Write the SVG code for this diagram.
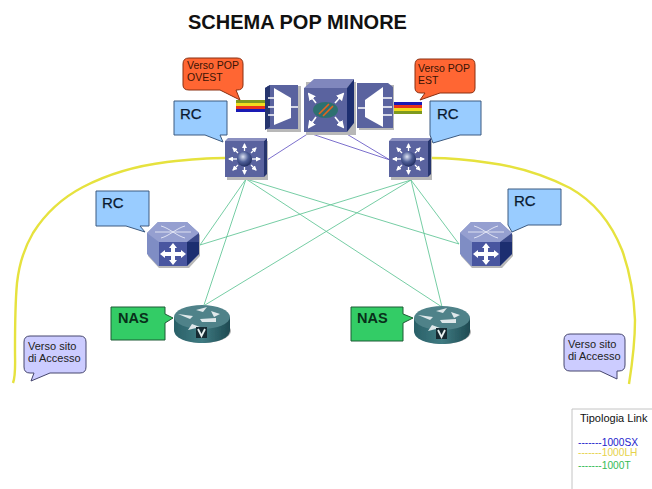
<svg xmlns="http://www.w3.org/2000/svg" width="652" height="489" viewBox="0 0 652 489">
<style>
text{font-family:"Liberation Sans",Arial,sans-serif}
.title{font-size:20px;font-weight:700;fill:#111}
.rc{font-size:15px;fill:#0a1a30;stroke:#0a1a30;stroke-width:.25}
.nas{font-size:14.5px;font-weight:700;fill:#08301a}
.small{font-size:11px;fill:#222}
.red{font-size:10.5px;fill:#3a1405}
.call{stroke-linejoin:round}
.blue{fill:#99ccff;stroke:#3c5a80;stroke-width:1}
.green{fill:#33cc66;stroke:#1c5a34;stroke-width:1}
.orange{fill:#ff6633;stroke:#8a2f10;stroke-width:1}
.lilac{fill:#ccccff;stroke:#46466e;stroke-width:1}
.g{fill:none;stroke:#66c79a;stroke-width:.9}
.p{fill:none;stroke:#5a4bc0;stroke-width:.8}
.y{fill:none;stroke:#e6e23e;stroke-width:2.4}
.w{fill:#fff}
.wl{fill:none;stroke:#fff;stroke-width:1.6}
.wa{fill:none;stroke:#fff;stroke-width:1.3}
.tick{fill:none;stroke:#fff;stroke-width:2.6}
.shadow{fill:#b8b8b8}
.soft{filter:url(#soft)}
</style>
<defs>
<filter id="soft" x="-5%" y="-5%" width="110%" height="110%"><feGaussianBlur stdDeviation=".4"/></filter>
<radialGradient id="ball" cx=".4" cy=".35" r=".7"><stop offset="0" stop-color="#dfe5f4"/><stop offset=".5" stop-color="#4f5f98"/><stop offset="1" stop-color="#1e2a5c"/></radialGradient>
<linearGradient id="rside" x1="0" x2="1" y1="0" y2="0"><stop offset="0" stop-color="#2a6068"/><stop offset=".5" stop-color="#3f7b82"/><stop offset="1" stop-color="#1e4a52"/></linearGradient>
<marker id="wa" markerUnits="userSpaceOnUse" markerWidth="5" markerHeight="5" refX="4" refY="2.500" orient="auto"><path d="M0 0L5 2.500L0 5z" fill="#fff"/></marker>
<marker id="wb" markerUnits="userSpaceOnUse" markerWidth="8" markerHeight="8" refX="6" refY="4" orient="auto"><path d="M0 0L8 4L0 8z" fill="#fff"/></marker>
<g id="sw">
<rect x="2" y="3" width="41" height="39" class="shadow"/>
<path d="M0 3L3 0H42L39 3z" fill="#8b90c0"/>
<path d="M39 3L42 0V36L39 39z" fill="#27346e"/>
<rect x="0" y="3" width="39" height="36" fill="#5a639f"/>
<path class="wa" d="M12 21H4" marker-end="url(#wa)"/><path class="wa" d="M27 21H35" marker-end="url(#wa)"/>
<path class="wa" d="M19.500 13V6" marker-end="url(#wa)"/><path class="wa" d="M19.500 29V36" marker-end="url(#wa)"/>
<path class="wa" d="M13 15L8 10" marker-end="url(#wa)"/><path class="wa" d="M26 15L31 10" marker-end="url(#wa)"/>
<path class="wa" d="M13 27L8 32" marker-end="url(#wa)"/><path class="wa" d="M26 27L31 32" marker-end="url(#wa)"/>
<circle cx="19.500" cy="21" r="7.500" fill="url(#ball)"/>
</g>
<g id="hex">
<path d="M12 2H42L53 13V34L42 46H12L1 34V13z" class="shadow"/>
<path d="M11 0H40L52 11V32L40 44H11L0 32V11z" fill="#7f8dc4"/>
<path d="M40 20H52V32L40 44z" fill="#1f2f70"/><path d="M40 11H52V20H40z" fill="#3a4a8a"/>
<path d="M12 20H40V44H12z" fill="#4a57a0"/>
<path d="M0 11L11 0H40L52 11L40 20H12z" fill="#959fd0"/>
<path d="M8 10H44M14 4C22 6 30 14 38 16M38 4C30 6 22 14 14 16" fill="none" stroke="#e6e9f6" stroke-width=".9"/>
<path d="M26 21L30 26H28V30H34V28L39 32L34 36V34H28V38H30L26 43L22 38H24V34H18V36L13 32L18 28V30H24V26H22z" class="w"/>
</g>
<g id="router">
<ellipse cx="29" cy="26" rx="28" ry="12" fill="#b0b0b0"/>
<path d="M0 12V25C0 33 12 38 28 38S56 33 56 25V12z" fill="url(#rside)"/>
<ellipse cx="28" cy="12" rx="28" ry="12" fill="#4f8289"/>
<path d="M4 9L19 11L16 14ZM26 14L42 13L42 17L28 17ZM22 5L33 2L29 7ZM26 22L14 25L18 19ZM46 9L37 6L40 12Z" fill="#dfe8ea"/>
<rect x="22" y="22" width="11" height="11" fill="#132a30"/>
<path d="M24 24L27.500 31L31 24" fill="none" stroke="#e8f0f0" stroke-width="1.800"/>
</g>
<g id="rain">
<rect width="31" height="3" y="0" fill="#7e9a1e"/>
<rect width="31" height="3" y="3" fill="#f2dc1e"/>
<rect width="31" height="3" y="6" fill="#e8341c"/>
<rect width="31" height="3" y="9" fill="#1a1ab4"/>
</g>
</defs>

<text class="title" x="188" y="29" id="title">SCHEMA POP MINORE</text>

<g id="connectors">
<path class="y" d="M225 158C205 158 185 160 167 162C135 166 108 174 83 187C60 199 45 214 33 233C23 250 19 265 17 283C15 305 15 330 15 350C15 365 16 375 13 383"/>
<path class="y" d="M432 158C450 158 470 160 490 163C520 167 550 178 570 188C595 202 612 225 622 250C630 272 634 295 635 320C635 345 632 365 629 384"/>
<path class="g" d="M246 179L200 245M246 179L204 305M246 179L459 244M246 179L442 307M411 180L200 245M411 180L205 305M411 180L459 244M411 180L442 307"/>
<path class="p" d="M309 133L267 160M309 133L390 160M345 133L390 160"/>
</g>

<g id="pop-ovest-rain"><use href="#rain" x="236" y="100"/></g>
<g id="pop-est-rain"><use href="#rain" transform="translate(391 114) scale(1 -1)"/></g>

<g id="mux-left" class="soft">
<rect x="267" y="86" width="34" height="46" class="shadow"/>
<path d="M265 88L270 85H298V129H265z" fill="#5a639f"/>
<path d="M265 88L270 85V127L265 130z" fill="#27346e"/>
<path d="M274 88L291 98V118L274 125z" class="w"/>
<path d="M268 98H275M268 107H275M268 115H275M290 107H298" class="wl"/>
</g>
<g id="mux-right" class="soft">
<rect x="359" y="85" width="35" height="45" class="shadow"/>
<path d="M357 83H388L393 87V128H357z" fill="#5a639f"/>
<path d="M383 87L365 100V117L383 127z" class="w"/>
<path d="M381 98H392M381 107H392M381 115H392M358 108H366" class="wl"/>
</g>
<g id="core" class="soft">
<rect x="306" y="82" width="50" height="53" class="shadow"/>
<path d="M304 88L314 79H354L347 88z" fill="#8087bd"/>
<path d="M347 88L354 79V123L347 132z" fill="#1f2f70"/>
<rect x="304" y="88" width="43" height="44" fill="#5a639f"/>
<path class="wl" d="M316 103L309 94" marker-end="url(#wb)"/><path class="wl" d="M335 103L343 94" marker-end="url(#wb)"/>
<path class="wl" d="M316 117L309 127" marker-end="url(#wb)"/><path class="wl" d="M335 117L343 127" marker-end="url(#wb)"/>
<ellipse cx="325.500" cy="110" rx="12.500" ry="8" fill="#2f7070"/>
<path d="M319 114L329 104M323 116L333 106" stroke="#e8631c" stroke-width="1.600" fill="none"/>
</g>

<g id="switch-left" class="soft"><use href="#sw" x="225" y="138"/></g>
<g id="switch-right" class="soft"><use href="#sw" x="389" y="138"/></g>
<g id="hex-left" class="soft"><use href="#hex" x="147" y="222"/></g>
<g id="hex-right" class="soft"><use href="#hex" x="460" y="222"/></g>
<g id="router-left" class="soft"><use href="#router" x="174" y="305"/></g>
<g id="router-right" class="soft"><use href="#router" x="414" y="306"/></g>

<g id="callout-ovest">
<path class="call orange" d="M189 58H237Q243 58 243 64V85Q243 90 237 90H236L240 100L220 90H189Q183 90 183 85V64Q183 58 189 58z"/>
<text class="red" x="187" y="69">Verso POP</text><text class="red" x="187" y="81">OVEST</text>
</g>
<g id="callout-est">
<path class="call orange" d="M420 59H470Q475 59 475 65V88Q475 93 470 93H440L420 100L425 93H421Q415 93 415 88V65Q415 59 420 59z"/>
<text class="red" x="418" y="72">Verso POP</text><text class="red" x="418" y="84">EST</text>
</g>
<g id="rc-top-left">
<path class="call blue" d="M174 101H227V135H220L223 142L205 135H174z"/>
<text class="rc" x="180" y="119">RC</text>
</g>
<g id="rc-top-right">
<path class="call blue" d="M430 101H481V135H460L433 143L430 135z"/>
<text class="rc" x="437" y="119">RC</text>
</g>
<g id="rc-mid-left">
<path class="call blue" d="M96 191H149V226H140L145 232L126 226H96z"/>
<text class="rc" x="102" y="208">RC</text>
</g>
<g id="rc-mid-right">
<path class="call blue" d="M508 189H561V225H528L512 232L508 225z"/>
<text class="rc" x="514" y="206">RC</text>
</g>
<g id="nas-left">
<path class="call green" d="M111 307H165V314L173 318L165 323V340H111z"/>
<text class="nas" x="118" y="323">NAS</text>
</g>
<g id="nas-right">
<path class="call green" d="M351 307H403V314L413 318L403 323V341H351z"/>
<text class="nas" x="357" y="323">NAS</text>
</g>
<g id="access-left">
<path class="call lilac" d="M30 336H80Q86 336 86 342V367Q86 373 80 373H50L31 381L34 373H30Q24 373 24 367V342Q24 336 30 336z"/>
<text class="small" x="28" y="350">Verso sito</text><text class="small" x="28" y="362">di Accesso</text>
</g>
<g id="access-right">
<path class="call lilac" d="M570 334H619Q625 334 625 340V365Q625 371 619 371H617V379L600 371H570Q564 371 564 365V340Q564 334 570 334z"/>
<text class="small" x="568" y="348">Verso sito</text><text class="small" x="568" y="360">di Accesso</text>
</g>
<g id="legend">
<path d="M572 489V409H652" fill="none" stroke="#c4c4c4" stroke-width="1"/>
<text x="580" y="422" font-size="11" fill="#111">Tipologia Link</text>
<text x="578" y="446" font-size="10.200" fill="#2222cc">-------1000SX</text>
<text x="578" y="456" font-size="10.200" fill="#e6d24a">-------1000LH</text>
<text x="578" y="469" font-size="10.200" fill="#33bb55">-------1000T</text>
</g>
</svg>
